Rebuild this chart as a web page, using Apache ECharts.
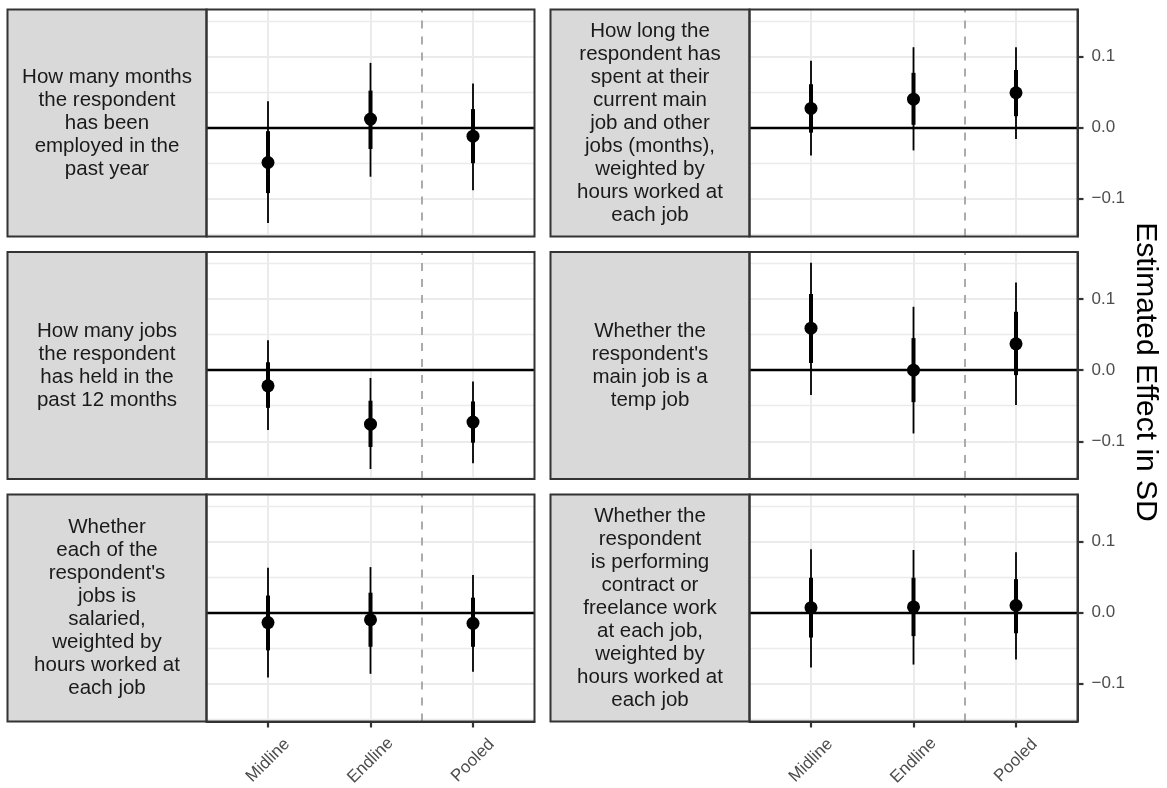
<!DOCTYPE html>
<html>
<head>
<meta charset="utf-8">
<script src="https://cdn.jsdelivr.net/npm/echarts@6/dist/echarts.min.js"></script>
<style>
  html, body { margin: 0; padding: 0; background: #ffffff; }
  #chart { width: 1167px; height: 788px; }
</style>
</head>
<body>
<div id="chart"></div>
<script>
// ---------------- data ----------------
const categories = ['Midline', 'Endline', 'Pooled'];

const panelLabels = [
  'How many months\nthe respondent\nhas been\nemployed in the\npast year',
  'How long the\nrespondent has\nspent at their\ncurrent main\njob and other\njobs (months),\nweighted by\nhours worked at\neach job',
  'How many jobs\nthe respondent\nhas held in the\npast 12 months',
  "Whether the\nrespondent's\nmain job is a\ntemp job",
  "Whether\neach of the\nrespondent's\njobs is\nsalaried,\nweighted by\nhours worked at\neach job",
  'Whether the\nrespondent\nis performing\ncontract or\nfreelance work\nat each job,\nweighted by\nhours worked at\neach job'
];

// point estimates (one row per panel, columns follow categories)
const estimate = [
  [-0.049, 0.012, -0.012],
  [0.027, 0.040, 0.049],
  [-0.022, -0.076, -0.073],
  [0.059, 0.000, 0.037],
  [-0.014, -0.010, -0.015],
  [0.007, 0.008, 0.010]
];
// outer (thin) interval
const outerLow = [
  [-0.134, -0.069, -0.088],
  [-0.039, -0.032, -0.016],
  [-0.084, -0.139, -0.131],
  [-0.035, -0.089, -0.049],
  [-0.091, -0.086, -0.083],
  [-0.077, -0.073, -0.066]
];
const outerHigh = [
  [0.037, 0.091, 0.062],
  [0.094, 0.113, 0.113],
  [0.042, -0.011, -0.016],
  [0.151, 0.089, 0.123],
  [0.063, 0.064, 0.053],
  [0.089, 0.088, 0.085]
];
// inner (thick) interval
const innerLow = [
  [-0.092, -0.030, -0.050],
  [-0.007, 0.004, 0.016],
  [-0.053, -0.108, -0.102],
  [0.010, -0.045, -0.007],
  [-0.053, -0.048, -0.048],
  [-0.035, -0.033, -0.029]
];
const innerHigh = [
  [-0.005, 0.052, 0.026],
  [0.061, 0.077, 0.081],
  [0.011, -0.043, -0.044],
  [0.107, 0.045, 0.082],
  [0.024, 0.028, 0.021],
  [0.049, 0.049, 0.047]
];

const yTickValues = [-0.1, 0, 0.1];
const yMinorValues = [-0.15, -0.05, 0.05, 0.15];
const yLimits = [-0.153, 0.166];
const xLimits = [0.4, 3.6];
const xTickValues = [1, 2, 3];
const zeroLineY = 0;
const dividerX = 2.5;
const axisTitle = 'Estimated Effect in SD';

// ---------------- layout ----------------
const FONT = '"Liberation Sans", Arial, Helvetica, sans-serif';
const stripLefts = [7.5, 550.5];
const stripW = 199;
const plotW = 328;
const rowTops = [9.5, 252, 494.5];
const panelH = 227;

const grids = [], xAxes = [], yAxes = [], series = [], graphics = [];

function fmtY(v) {
  const s = (Math.round(v * 10) / 10).toFixed(1);
  return s.replace('-', '\u2212');
}

function barRenderer(width) {
  return function (params, api) {
    const x = api.value(0);
    const a = api.coord([x, api.value(1)]);
    const b = api.coord([x, api.value(2)]);
    return {
      type: 'line',
      shape: { x1: a[0], y1: a[1], x2: b[0], y2: b[1] },
      style: { stroke: '#000000', lineWidth: width, lineCap: 'butt' }
    };
  };
}

for (let p = 0; p < 6; p++) {
  const row = Math.floor(p / 2), col = p % 2;
  const top = rowTops[row];
  const stripLeft = stripLefts[col];
  const plotLeft = stripLeft + stripW;
  const bottomRow = row === 2;
  const rightCol = col === 1;

  grids.push({ left: plotLeft, top: top, width: plotW, height: panelH, containLabel: false, outerBoundsMode: 'none', show: false });

  xAxes.push({
    type: 'value', gridIndex: p, min: xLimits[0], max: xLimits[1], position: 'bottom',
    axisLine: { show: bottomRow, onZero: false, lineStyle: { color: '#333333', width: 2 } },
    axisTick: { show: bottomRow, customValues: xTickValues, length: 6, lineStyle: { color: '#333333', width: 2.2 } },
    axisLabel: {
      show: bottomRow, customValues: xTickValues,
      formatter: v => categories[Math.round(v) - 1],
      rotate: 45, align: 'center', verticalAlign: 'middle', margin: 39,
      color: '#4D4D4D', fontSize: 17, fontFamily: FONT
    },
    splitLine: { show: true, lineStyle: { color: '#EBEBEB', width: 2 } }
  });

  yAxes.push({
    type: 'value', gridIndex: p, min: yLimits[0], max: yLimits[1], position: 'right',
    axisLine: { show: rightCol, onZero: false, lineStyle: { color: '#333333', width: 2 } },
    axisTick: { show: rightCol, customValues: yTickValues, length: 6, lineStyle: { color: '#333333', width: 2.2 } },
    axisLabel: { show: rightCol, customValues: yTickValues, formatter: fmtY, margin: 14, color: '#4D4D4D', fontSize: 17, fontFamily: FONT },
    splitLine: { show: true, lineStyle: { color: '#EBEBEB', width: 2 } }
  });
  yAxes.push({
    type: 'value', gridIndex: p, min: yLimits[0], max: yLimits[1], position: 'left',
    axisLine: { show: false },
    axisTick: { show: false, customValues: yMinorValues },
    axisLabel: { show: false, customValues: yMinorValues },
    splitLine: { show: true, lineStyle: { color: '#EBEBEB', width: 1.3 } }
  });

  const outerData = categories.map((c, i) => [i + 1, outerLow[p][i], outerHigh[p][i]]);
  const innerData = categories.map((c, i) => [i + 1, innerLow[p][i], innerHigh[p][i]]);
  const pointData = categories.map((c, i) => [i + 1, estimate[p][i]]);

  series.push({
    type: 'custom', xAxisIndex: p, yAxisIndex: 2 * p, z: 3, silent: true,
    renderItem: barRenderer(1.8), encode: { x: 0, y: [1, 2] }, data: outerData,
    markLine: {
      silent: true, symbol: 'none', z: 2, label: { show: false },
      animation: false,
      data: [
        { yAxis: zeroLineY, lineStyle: { color: '#000000', width: 2.4, type: 'solid' } },
        { xAxis: dividerX, lineStyle: { color: '#ABABAB', width: 2, type: [8, 8] } }
      ]
    }
  });
  series.push({
    type: 'custom', xAxisIndex: p, yAxisIndex: 2 * p, z: 3, silent: true,
    renderItem: barRenderer(4), encode: { x: 0, y: [1, 2] }, data: innerData
  });
  series.push({
    type: 'scatter', xAxisIndex: p, yAxisIndex: 2 * p, z: 4, silent: true,
    symbol: 'circle', symbolSize: 13, itemStyle: { color: '#000000', opacity: 1 },
    data: pointData
  });

  graphics.push({
    type: 'rect', z: 10, silent: true,
    shape: { x: stripLeft, y: top, width: stripW, height: panelH },
    style: { fill: '#D9D9D9', stroke: '#333333', lineWidth: 2 }
  });
  graphics.push({
    type: 'text', z: 11, silent: true,
    x: stripLeft + stripW / 2, y: top + panelH / 2,
    style: {
      text: panelLabels[p], align: 'center', verticalAlign: 'middle',
      font: '20.5px ' + FONT, fill: '#1A1A1A', lineHeight: 23
    }
  });
  graphics.push({
    type: 'rect', z: 100, silent: true,
    shape: { x: plotLeft, y: top, width: plotW, height: panelH },
    style: { fill: 'none', stroke: '#333333', lineWidth: 2 }
  });
}

graphics.push({
  type: 'text', z: 11, silent: true,
  x: 1145, y: 372, rotation: -Math.PI / 2,
  style: { text: axisTitle, align: 'center', verticalAlign: 'middle', font: '30px ' + FONT, fill: '#000000' }
});

const chart = echarts.init(document.getElementById('chart'), null, { renderer: 'canvas' });
chart.setOption({
  backgroundColor: '#ffffff',
  animation: false,
  grid: grids,
  xAxis: xAxes,
  yAxis: yAxes,
  series: series,
  graphic: { elements: graphics }
});
</script>
</body>
</html>
